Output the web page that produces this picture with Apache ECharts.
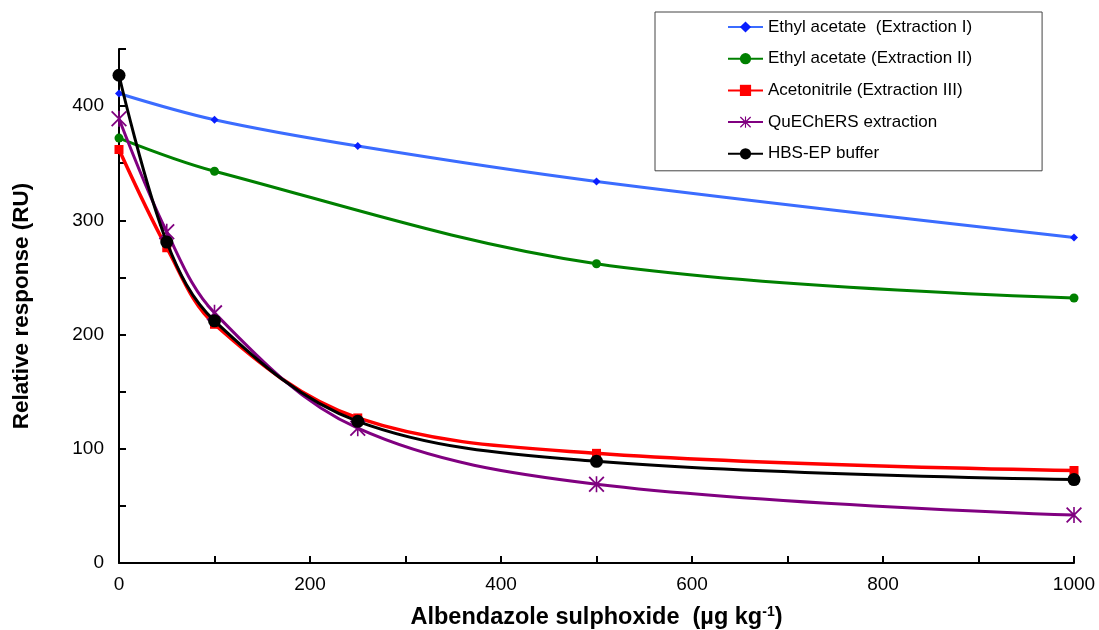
<!DOCTYPE html>
<html>
<head>
<meta charset="utf-8">
<script src="https://cdn.jsdelivr.net/npm/echarts@6/dist/echarts.min.js"></script>
<style>
  html, body { margin: 0; padding: 0; background: #fff; }
  #chart { width: 1099px; height: 630px; }
</style>
</head>
<body>
<div id="chart"></div>
<script>
// Concentrations of albendazole sulphoxide (µg/kg) and SPR relative responses (RU)
const concAll = [0, 50, 100, 250, 500, 1000];
const concEA1 = [0, 100, 250, 500, 1000];
const concEA2 = [0, 100, 500, 1000];

const ethylAcetateI = [411, 388, 365, 334, 285];
const ethylAcetateII = [372, 343, 262, 232];
const acetonitrileIII = [362, 276, 209, 127, 96, 81];
const quechers = [389, 290, 219, 118, 69, 42];
const hbsEpBuffer = [427, 281, 212, 124, 89, 73];

const seriesNames = [
  'Ethyl acetate  (Extraction I)',
  'Ethyl acetate (Extraction II)',
  'Acetonitrile (Extraction III)',
  'QuEChERS extraction',
  'HBS-EP buffer'
];

const FONT = '"Liberation Sans", Arial, sans-serif';

// six-armed asterisk built from thin filled bars
const asterisk = 'path://M4.5,0 L5.5,0 L5.5,10 L4.5,10 Z M0,0.8 L0.8,0 L10,9.2 L9.2,10 Z M9.2,0 L10,0.8 L0.8,10 L0,9.2 Z';

function pairs(xs, ys) {
  return xs.map((x, i) => [x, ys[i]]);
}

const chart = echarts.init(document.getElementById('chart'), null, { renderer: 'canvas' });

chart.setOption({
  animation: false,
  backgroundColor: '#fff',
  grid: { left: 119, right: 25, top: 49, bottom: 67, containLabel: false, outerBoundsMode: 'none' },
  legend: {
    orient: 'vertical',
    left: 655,
    top: 12,
    itemWidth: 35,
    itemHeight: 14,
    itemGap: 13.7,
    padding: [6, 70, 8, 72],
    borderColor: '#444',
    borderWidth: 1,
    textStyle: { fontFamily: FONT, fontSize: 17, lineHeight: 18, color: '#000' },
    data: seriesNames
  },
  xAxis: {
    type: 'value',
    min: 0,
    max: 1000,
    interval: 100,
    name: '{b|Albendazole sulphoxide  (µg kg}{sup|-1}{b|)}',
    nameLocation: 'middle',
    nameGap: 42,
    nameTextStyle: {
      rich: {
        b: { fontFamily: FONT, fontSize: 23.5, lineHeight: 26, fontWeight: 'bold', color: '#000' },
        sup: { fontFamily: FONT, fontSize: 14, lineHeight: 26, fontWeight: 'bold', color: '#000', verticalAlign: 'bottom', padding: [0, 0, 12, 0] }
      }
    },
    axisLine: { lineStyle: { color: '#000', width: 2 } },
    axisTick: { inside: true, length: 7, lineStyle: { color: '#000', width: 2 } },
    axisLabel: {
      fontFamily: FONT, fontSize: 19, color: '#000', margin: 12,
      formatter: v => (v % 200 === 0 ? String(v) : '')
    },
    splitLine: { show: false }
  },
  yAxis: {
    type: 'value',
    min: 0,
    max: 450,
    interval: 50,
    name: 'Relative response (RU)',
    nameLocation: 'middle',
    nameGap: 86,
    nameTextStyle: { fontFamily: FONT, fontSize: 22.5, fontWeight: 'bold', color: '#000' },
    axisLine: { show: true, lineStyle: { color: '#000', width: 2 } },
    axisTick: { show: true, inside: true, length: 7, lineStyle: { color: '#000', width: 2 } },
    axisLabel: {
      fontFamily: FONT, fontSize: 19, color: '#000', margin: 15,
      formatter: v => (v % 100 === 0 ? String(v) : '')
    },
    splitLine: { show: false }
  },
  series: [
    {
      name: seriesNames[0], type: 'line', smooth: 0.35,
      data: pairs(concEA1, ethylAcetateI),
      symbol: 'diamond', symbolSize: 8,
      lineStyle: { color: '#3b6cff', width: 3 },
      itemStyle: { color: '#0a1eff' },
      z: 2
    },
    {
      name: seriesNames[1], type: 'line', smooth: 0.35,
      data: pairs(concEA2, ethylAcetateII),
      symbol: 'circle', symbolSize: 9,
      lineStyle: { color: '#008000', width: 3 },
      itemStyle: { color: '#008000' },
      z: 2
    },
    {
      name: seriesNames[2], type: 'line', smooth: 0.35,
      data: pairs(concAll, acetonitrileIII),
      symbol: 'rect', symbolSize: 9,
      lineStyle: { color: '#ff0000', width: 3.5 },
      itemStyle: { color: '#ff0000' },
      z: 3
    },
    {
      name: seriesNames[3], type: 'line', smooth: 0.35,
      data: pairs(concAll, quechers),
      symbol: asterisk, symbolSize: 16,
      lineStyle: { color: '#800080', width: 3 },
      itemStyle: { color: '#800080' },
      z: 4
    },
    {
      name: seriesNames[4], type: 'line', smooth: 0.35,
      data: pairs(concAll, hbsEpBuffer),
      symbol: 'circle', symbolSize: 13,
      lineStyle: { color: '#000000', width: 3 },
      itemStyle: { color: '#000000' },
      z: 5
    }
  ]
});
</script>
</body>
</html>
